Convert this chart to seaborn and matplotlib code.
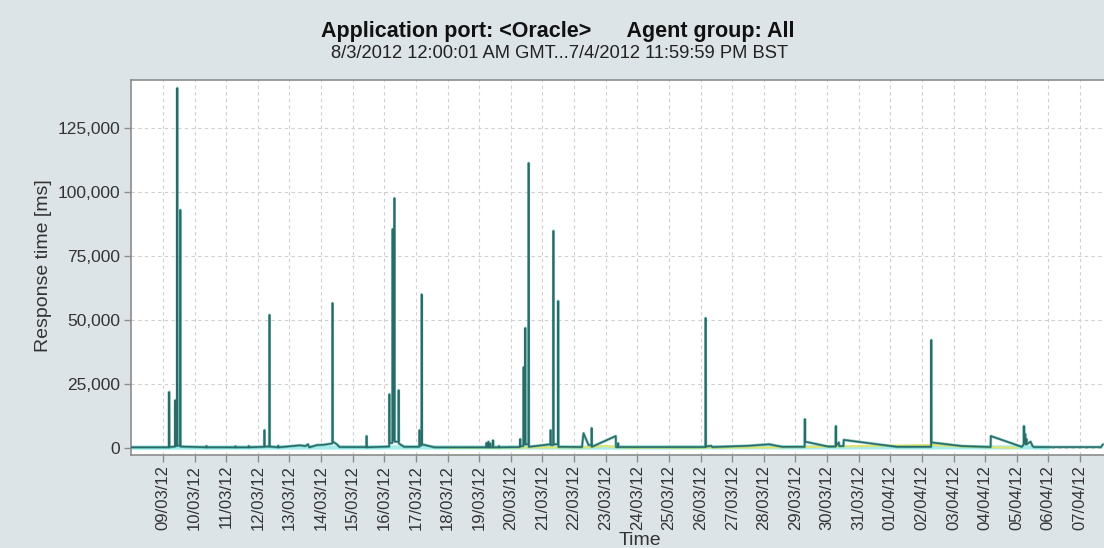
import pandas as pd
import numpy as np
import seaborn as sns
import matplotlib.pyplot as plt
import matplotlib.dates as mdates

# main (max) response time series, one row per day-ish
dark_times = [
    "2012-03-08 00:00", "2012-03-09 04:30", "2012-03-09 04:40", "2012-03-09 04:50",
    "2012-03-09 09:10", "2012-03-09 09:20", "2012-03-09 09:30", "2012-03-09 10:40",
    "2012-03-09 10:50", "2012-03-09 11:00", "2012-03-09 13:00", "2012-03-09 13:10",
    "2012-03-09 13:20", "2012-03-10 08:50", "2012-03-10 09:00", "2012-03-10 09:10",
    "2012-03-11 06:50", "2012-03-11 07:00", "2012-03-11 07:10", "2012-03-11 16:50",
    "2012-03-11 17:00", "2012-03-11 17:10", "2012-03-12 04:50", "2012-03-12 05:00",
    "2012-03-12 05:10", "2012-03-12 08:40", "2012-03-12 08:50", "2012-03-12 09:00",
    "2012-03-12 15:20", "2012-03-12 15:30", "2012-03-12 15:40", "2012-03-13 00:30",
    "2012-03-13 04:00", "2012-03-13 08:00", "2012-03-13 12:00", "2012-03-13 14:00",
    "2012-03-13 15:00", "2012-03-13 21:00", "2012-03-14 02:00", "2012-03-14 08:30",
    "2012-03-14 08:40", "2012-03-14 08:50", "2012-03-14 12:00", "2012-03-14 14:00",
    "2012-03-15 10:20", "2012-03-15 10:30", "2012-03-15 10:40", "2012-03-16 03:40",
    "2012-03-16 03:50", "2012-03-16 04:00", "2012-03-16 06:05", "2012-03-16 06:15",
    "2012-03-16 06:25", "2012-03-16 07:30", "2012-03-16 07:40", "2012-03-16 07:50",
    "2012-03-16 10:40", "2012-03-16 10:50", "2012-03-16 11:00", "2012-03-16 15:00",
    "2012-03-17 02:30", "2012-03-17 02:40", "2012-03-17 02:50", "2012-03-17 04:10",
    "2012-03-17 04:20", "2012-03-17 04:30", "2012-03-17 10:00", "2012-03-17 14:00",
    "2012-03-19 05:20", "2012-03-19 05:30", "2012-03-19 05:40", "2012-03-19 06:50",
    "2012-03-19 07:00", "2012-03-19 07:10", "2012-03-19 08:20", "2012-03-19 08:30",
    "2012-03-19 08:40", "2012-03-19 10:20", "2012-03-19 10:30", "2012-03-19 10:40",
    "2012-03-19 14:50", "2012-03-19 15:00", "2012-03-19 15:10", "2012-03-20 07:00",
    "2012-03-20 07:10", "2012-03-20 07:20", "2012-03-20 09:30", "2012-03-20 09:40",
    "2012-03-20 09:50", "2012-03-20 10:50", "2012-03-20 11:00", "2012-03-20 11:10",
    "2012-03-20 13:20", "2012-03-20 13:30", "2012-03-20 13:40", "2012-03-21 06:00",
    "2012-03-21 06:10", "2012-03-21 06:20", "2012-03-21 08:10", "2012-03-21 08:20",
    "2012-03-21 08:30", "2012-03-21 11:50", "2012-03-21 12:00", "2012-03-21 12:10",
    "2012-03-22 06:00", "2012-03-22 07:10", "2012-03-22 11:00", "2012-03-22 13:10",
    "2012-03-22 13:20", "2012-03-22 13:30", "2012-03-23 07:40", "2012-03-23 07:50",
    "2012-03-23 09:20", "2012-03-23 09:30", "2012-03-23 09:40", "2012-03-26 03:40",
    "2012-03-26 03:50", "2012-03-26 04:00", "2012-03-26 08:00", "2012-03-26 09:00",
    "2012-03-27 12:00", "2012-03-28 04:00", "2012-03-28 14:00", "2012-03-29 07:00",
    "2012-03-29 07:10", "2012-03-29 07:20", "2012-03-30 01:00", "2012-03-30 06:30",
    "2012-03-30 06:40", "2012-03-30 06:50", "2012-03-30 09:00", "2012-03-30 09:10",
    "2012-03-30 12:30", "2012-03-30 12:40", "2012-04-01 05:00", "2012-04-02 07:00",
    "2012-04-02 07:10", "2012-04-02 07:20", "2012-04-03 06:30", "2012-04-04 04:10",
    "2012-04-04 04:20", "2012-04-05 03:50", "2012-04-05 05:20", "2012-04-05 05:30",
    "2012-04-05 05:40", "2012-04-05 06:30", "2012-04-05 06:40", "2012-04-05 07:30",
    "2012-04-05 07:40", "2012-04-05 10:30", "2012-04-05 12:00", "2012-04-05 13:00",
    "2012-04-07 16:00", "2012-04-07 17:30",
]
dark_values = [
    300, 300, 21900, 400,
    600, 18700, 900, 900,
    140600, 1000, 900, 93000,
    600, 300, 800, 300,
    300, 700, 300, 300,
    800, 300, 500, 7000,
    600, 600, 52000, 600,
    300, 900, 300, 700,
    900, 1100, 800, 1500,
    300, 1200, 1300, 1800,
    56600, 2500, 1500, 400,
    400, 4700, 300, 600,
    21000, 2000, 2000, 85500,
    3000, 3000, 97600, 2500,
    2500, 22600, 1800, 500,
    500, 7000, 1000, 1000,
    60000, 1500, 800, 300,
    300, 2000, 300, 300,
    2500, 300, 300, 1800,
    300, 300, 3000, 300,
    300, 800, 300, 400,
    3500, 800, 800, 31600,
    1500, 1500, 46900, 1500,
    1500, 111300, 500, 1500,
    7000, 1200, 1200, 84800,
    1500, 1500, 57400, 500,
    400, 5800, 1200, 1200,
    7800, 500, 4700, 400,
    400, 1900, 400, 400,
    50800, 600, 900, 400,
    900, 1500, 500, 500,
    11300, 2500, 600, 600,
    8600, 1000, 2200, 800,
    800, 3200, 500, 500,
    42200, 2200, 800, 400,
    4700, 500, 1500, 8600,
    2000, 5500, 1500, 3500,
    1500, 2500, 800, 400,
    400, 1500,
]

# light baseline series
light_times = ["2012-03-08 00:00", "2012-03-16 12:00", "2012-03-22 00:00",
               "2012-03-30 00:00", "2012-04-05 12:00", "2012-04-06 00:00"]
light_values = [150, 250, 200, 300, 250, 100]

# yellow (min) series
yellow_times = ["2012-03-18 00:00", "2012-03-20 00:00", "2012-03-22 12:00",
                "2012-03-23 00:00", "2012-03-23 08:00", "2012-03-24 00:00",
                "2012-03-28 00:00", "2012-03-29 00:00", "2012-04-02 08:00",
                "2012-04-03 06:00", "2012-04-05 00:00"]
yellow_values = [100, 200, 300, 900, 300, 100, 200, 400, 1200, 600, 100]

dark = pd.DataFrame({"time": pd.to_datetime(dark_times), "value": dark_values})
light = pd.DataFrame({"time": pd.to_datetime(light_times), "value": light_values})
yellow = pd.DataFrame({"time": pd.to_datetime(yellow_times), "value": yellow_values})

sns.set_style("white")
plt.rcParams['font.family'] = ['Liberation Sans', 'DejaVu Sans']

bg = '#dde4e7'
fig = plt.figure(figsize=(11.04, 5.48), dpi=100, facecolor=bg)
ax = fig.add_axes([131.4 / 1104, 1 - 455 / 548, 1 - 131.4 / 1104, 375 / 548])
ax.set_facecolor('white')

sns.lineplot(data=light, x="time", y="value", ax=ax, color='#a6ecec', lw=3, zorder=2)
sns.lineplot(data=yellow, x="time", y="value", ax=ax, color='#e4e46c', lw=1.5, zorder=2)
sns.lineplot(data=dark, x="time", y="value", ax=ax, color='#1fa08c', lw=2.1, alpha=0.5, zorder=3)
sns.lineplot(data=dark, x="time", y="value", ax=ax, color='#2b6a68', lw=1.15, zorder=4)

ax.set_xlim(pd.Timestamp("2012-03-08 00:00"), pd.Timestamp("2012-04-07 18:14"))
ax.set_ylim(-2700, 143750)
ax.set_yticks([0, 25000, 50000, 75000, 100000, 125000])
ax.yaxis.set_major_formatter(plt.FuncFormatter(lambda v, p: f"{int(v):,}"))
ax.set_xticks(pd.date_range("2012-03-09", "2012-04-07", freq="D"))
ax.xaxis.set_major_formatter(mdates.DateFormatter('%d/%m/%y'))

ax.grid(True, color='#cfcfcf', linestyle=(0, (3, 3)), lw=0.8)
ax.set_axisbelow(True)
for s in ['left', 'bottom', 'top']:
    ax.spines[s].set_color('#8c8c8c')
    ax.spines[s].set_linewidth(1.2)
ax.spines['right'].set_visible(False)

ax.tick_params(axis='both', colors='#8c8c8c', length=5, width=1, labelcolor='#333333',
               labelsize=12.5, direction='out')
ax.tick_params(axis='x', rotation=90, pad=2, labelsize=12)
ax.tick_params(axis='y', pad=3)
ax.tick_params(left=True, bottom=True)

ax.set_xlabel("Time", fontsize=14, color='#333333')
ax.set_ylabel("Response time [ms]", fontsize=14, color='#333333')
ax.xaxis.set_label_coords(0.523, -0.205)
ax.yaxis.set_label_coords(-0.082, 0.504)

fig.text(0.505, 1 - 32 / 548, "Application port: <Oracle>      Agent group: All",
         ha='center', va='center', fontsize=15.5, fontweight='bold', color='#111111')
fig.text(0.507, 1 - 53 / 548, "8/3/2012 12:00:01 AM GMT...7/4/2012 11:59:59 PM BST",
         ha='center', va='center', fontsize=13.2, color='#222222')

plt.savefig("out.png", dpi=100, facecolor=bg)
